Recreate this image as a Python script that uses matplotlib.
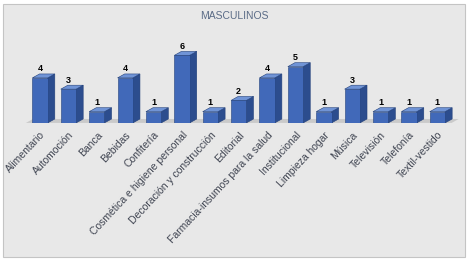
import matplotlib
matplotlib.use("Agg")
import matplotlib.pyplot as plt
from matplotlib.patches import Polygon, Rectangle

categories = ["Alimentario", "Automoción", "Banca", "Bebidas", "Confitería",
              "Cosmética e higiene personal", "Decoración y construcción",
              "Editorial", "Farmacia-insumos para la salud", "Institucional",
              "Limpieza hogar", "Música", "Televisión", "Telefonía", "Textil-vestido"]
values = [4, 3, 1, 4, 1, 6, 1, 2, 4, 5, 1, 3, 1, 1, 1]
title = "MASCULINOS"

W, H, DPI = 469, 261, 100
fig = plt.figure(figsize=(W / DPI, H / DPI), dpi=DPI)
fig.patch.set_facecolor("white")
fig.patches.append(Rectangle((3 / W, 4 / H), 462 / W, 253 / H, transform=fig.transFigure,
                             facecolor="#e8e8e8", edgecolor="#c4c4c4", lw=0.8, zorder=-10))

ax = fig.add_axes([0.04, 0.529, 0.938, 0.302])
ax.set_facecolor("none")
ax.set_xlim(-0.75, 14.75)
ax.set_ylim(0, 7)
for s in ax.spines.values():
    s.set_visible(False)
ax.set_yticks([])

bw = 0.54
dx, dy = 0.25, 0.35
front_c, side_c, top_c, edge_c = "#4169b9", "#2c4d8e", "#7094d6", "#22407a"

n = len(values)
# floor
floor = Polygon([(-0.5, 0), (n - 1 + 0.5, 0), (n - 1 + 0.5 + dx, dy), (-0.5 + dx, dy)],
                closed=True, facecolor="#cacaca", edgecolor="none", zorder=1)
ax.add_patch(floor)

xs = list(range(n))
ax.bar(xs, values, width=bw, color=front_c, edgecolor=edge_c, linewidth=0.4, zorder=3)
for x, v in zip(xs, values):
    l, r = x - bw / 2, x + bw / 2
    ax.add_patch(Polygon([(r, 0), (r + dx, dy), (r + dx, v + dy), (r, v)], closed=True,
                         facecolor=side_c, edgecolor=edge_c, lw=0.4, zorder=2))
    ax.add_patch(Polygon([(l, v), (r, v), (r + dx, v + dy), (l + dx, v + dy)], closed=True,
                         facecolor=top_c, edgecolor=edge_c, lw=0.4, zorder=2))
    ax.text(x, v + dy + 0.05, str(v), ha="center", va="bottom", fontsize=6.5,
            fontweight="bold", color="black", family="Liberation Sans", zorder=4)

ax.set_xticks(xs)
ax.set_xticklabels(categories, rotation=47, ha="right", va="top", rotation_mode="anchor",
                   fontsize=7.5, color="#3f4451", family="Liberation Sans")
ax.tick_params(axis="x", length=0, pad=5)

fig.text(0.5, 0.94, title, ha="center", va="center", fontsize=7.5, color="#5a6b86",
         family="Liberation Sans")

fig.savefig("out.png", dpi=DPI)
